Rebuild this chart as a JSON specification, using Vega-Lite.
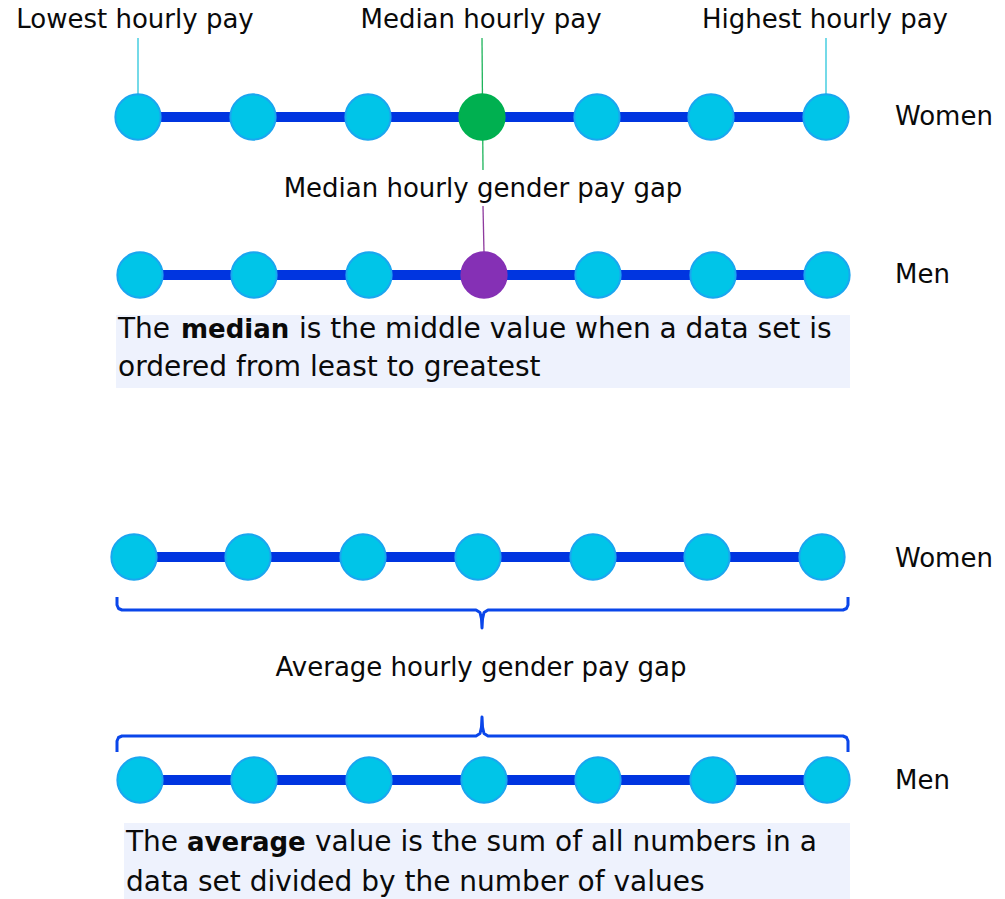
{
  "$schema": "https://vega.github.io/schema/vega-lite/v6.json",
  "width": 1005,
  "height": 899,
  "padding": 0,
  "autosize": {"type": "fit", "contains": "padding"},
  "background": "white",
  "config": {"view": {"stroke": null}},
  "datasets": {
    "boxes": [
      {"x": 116, "x2": 850, "y": 315, "y2": 388},
      {"x": 124, "x2": 850, "y": 823, "y2": 899}
    ],
    "leaders": [
      {"x": 138, "y": 38, "x2": 138, "y2": 95, "kind": "lead_cyan"},
      {"x": 826, "y": 38, "x2": 826, "y2": 95, "kind": "lead_cyan"},
      {"x": 482, "y": 38, "x2": 483, "y2": 170, "kind": "lead_green"},
      {"x": 483, "y": 206, "x2": 484, "y2": 253, "kind": "lead_purple"}
    ],
    "tracks": [
      {"x": 138, "x2": 826, "y": 117},
      {"x": 140, "x2": 827, "y": 275},
      {"x": 134, "x2": 822, "y": 557},
      {"x": 140, "x2": 827, "y": 780}
    ],
    "braces": [
      {"b": "top", "o": 1, "x": 117, "y": 597},
      {"b": "top", "o": 2, "x": 117, "y": 605},
      {"b": "top", "o": 3, "x": 118.5, "y": 608.5},
      {"b": "top", "o": 4, "x": 122, "y": 610},
      {"b": "top", "o": 5, "x": 476, "y": 610},
      {"b": "top", "o": 6, "x": 480, "y": 612.5},
      {"b": "top", "o": 7, "x": 481.5, "y": 619},
      {"b": "top", "o": 8, "x": 482, "y": 628},
      {"b": "top", "o": 9, "x": 482.5, "y": 619},
      {"b": "top", "o": 10, "x": 484, "y": 612.5},
      {"b": "top", "o": 11, "x": 488, "y": 610},
      {"b": "top", "o": 12, "x": 843, "y": 610},
      {"b": "top", "o": 13, "x": 846.5, "y": 608.5},
      {"b": "top", "o": 14, "x": 848, "y": 605},
      {"b": "top", "o": 15, "x": 848, "y": 597},
      {"b": "bot", "o": 1, "x": 117, "y": 752},
      {"b": "bot", "o": 2, "x": 117, "y": 741},
      {"b": "bot", "o": 3, "x": 118.5, "y": 737.5},
      {"b": "bot", "o": 4, "x": 122, "y": 736},
      {"b": "bot", "o": 5, "x": 476, "y": 736},
      {"b": "bot", "o": 6, "x": 480, "y": 733.5},
      {"b": "bot", "o": 7, "x": 481.5, "y": 727},
      {"b": "bot", "o": 8, "x": 482, "y": 717},
      {"b": "bot", "o": 9, "x": 482.5, "y": 727},
      {"b": "bot", "o": 10, "x": 484, "y": 733.5},
      {"b": "bot", "o": 11, "x": 488, "y": 736},
      {"b": "bot", "o": 12, "x": 843, "y": 736},
      {"b": "bot", "o": 13, "x": 846.5, "y": 737.5},
      {"b": "bot", "o": 14, "x": 848, "y": 741},
      {"b": "bot", "o": 15, "x": 848, "y": 752}
    ],
    "dots": [
      {"row": "Women median", "x": 138, "y": 117, "kind": "plain"},
      {"row": "Women median", "x": 253, "y": 117, "kind": "plain"},
      {"row": "Women median", "x": 368, "y": 117, "kind": "plain"},
      {"row": "Women median", "x": 482, "y": 117, "kind": "median_women"},
      {"row": "Women median", "x": 597, "y": 117, "kind": "plain"},
      {"row": "Women median", "x": 711, "y": 117, "kind": "plain"},
      {"row": "Women median", "x": 826, "y": 117, "kind": "plain"},
      {"row": "Men median", "x": 140, "y": 275, "kind": "plain"},
      {"row": "Men median", "x": 254, "y": 275, "kind": "plain"},
      {"row": "Men median", "x": 369, "y": 275, "kind": "plain"},
      {"row": "Men median", "x": 484, "y": 275, "kind": "median_men"},
      {"row": "Men median", "x": 598, "y": 275, "kind": "plain"},
      {"row": "Men median", "x": 713, "y": 275, "kind": "plain"},
      {"row": "Men median", "x": 827, "y": 275, "kind": "plain"},
      {"row": "Women average", "x": 134, "y": 557, "kind": "plain"},
      {"row": "Women average", "x": 248, "y": 557, "kind": "plain"},
      {"row": "Women average", "x": 363, "y": 557, "kind": "plain"},
      {"row": "Women average", "x": 478, "y": 557, "kind": "plain"},
      {"row": "Women average", "x": 593, "y": 557, "kind": "plain"},
      {"row": "Women average", "x": 707, "y": 557, "kind": "plain"},
      {"row": "Women average", "x": 822, "y": 557, "kind": "plain"},
      {"row": "Men average", "x": 140, "y": 780, "kind": "plain"},
      {"row": "Men average", "x": 254, "y": 780, "kind": "plain"},
      {"row": "Men average", "x": 369, "y": 780, "kind": "plain"},
      {"row": "Men average", "x": 484, "y": 780, "kind": "plain"},
      {"row": "Men average", "x": 598, "y": 780, "kind": "plain"},
      {"row": "Men average", "x": 713, "y": 780, "kind": "plain"},
      {"row": "Men average", "x": 827, "y": 780, "kind": "plain"}
    ],
    "centerLabels": [
      {"x": 135, "y": 20, "label": "Lowest hourly pay"},
      {"x": 481, "y": 20, "label": "Median hourly pay"},
      {"x": 825, "y": 20, "label": "Highest hourly pay"},
      {"x": 483, "y": 189, "label": "Median hourly gender pay gap"},
      {"x": 481, "y": 668, "label": "Average hourly gender pay gap"}
    ],
    "sideLabels": [
      {"x": 895, "y": 117, "label": "Women"},
      {"x": 895, "y": 275, "label": "Men"},
      {"x": 895, "y": 559, "label": "Women"},
      {"x": 895, "y": 781, "label": "Men"}
    ],
    "boxText": [
      {"x": 118, "y": 330, "label": "The"},
      {"x": 299, "y": 330, "label": "is the middle value when a data set is"},
      {"x": 118, "y": 368, "label": "ordered from least to greatest"},
      {"x": 126, "y": 843, "label": "The"},
      {"x": 315, "y": 843, "label": "value is the sum of all numbers in a"},
      {"x": 126, "y": 883, "label": "data set divided by the number of values"}
    ],
    "boxBold": [
      {"x": 181, "y": 330, "label": "median"},
      {"x": 187, "y": 843, "label": "average"}
    ]
  },
  "encoding": {
    "x": {"field": "x", "type": "quantitative", "scale": {"domain": [0, 1005], "nice": false, "zero": false}, "axis": null},
    "y": {"field": "y", "type": "quantitative", "scale": {"domain": [0, 899], "nice": false, "zero": false, "reverse": true}, "axis": null}
  },
  "layer": [
    {
      "data": {"name": "boxes"},
      "mark": {"type": "rect", "color": "#eef2fd"},
      "encoding": {"x2": {"field": "x2"}, "y2": {"field": "y2"}}
    },
    {
      "data": {"name": "leaders"},
      "mark": {"type": "rule", "strokeWidth": 1.3},
      "encoding": {
        "x2": {"field": "x2"},
        "y2": {"field": "y2"},
        "color": {"field": "kind", "type": "nominal", "legend": null,
          "scale": {"domain": ["lead_cyan", "lead_green", "lead_purple"], "range": ["#2ac6dc", "#1db45a", "#8e3a9e"]}}
      }
    },
    {
      "data": {"name": "tracks"},
      "mark": {"type": "rule", "strokeWidth": 10, "color": "#0035e0"},
      "encoding": {"x2": {"field": "x2"}}
    },
    {
      "data": {"name": "braces"},
      "mark": {"type": "line", "strokeWidth": 3, "color": "#0a46ea", "strokeJoin": "round", "strokeCap": "butt"},
      "encoding": {
        "detail": {"field": "b", "type": "nominal"},
        "order": {"field": "o", "type": "quantitative"}
      }
    },
    {
      "data": {"name": "dots"},
      "mark": {"type": "point", "shape": "circle", "filled": true, "size": 2050, "opacity": 1, "strokeWidth": 2},
      "encoding": {
        "fill": {"field": "kind", "type": "nominal", "legend": null,
          "scale": {"domain": ["plain", "median_women", "median_men"], "range": ["#00c5e8", "#00b050", "#8530b5"]}},
        "stroke": {"field": "kind", "type": "nominal", "legend": null,
          "scale": {"domain": ["plain", "median_women", "median_men"], "range": ["#1aa6f0", "#00b050", "#8530b5"]}}
      }
    },
    {
      "data": {"name": "centerLabels"},
      "mark": {"type": "text", "align": "center", "baseline": "middle", "font": "DejaVu Sans", "fontSize": 26, "color": "#0a0a0a"},
      "encoding": {"text": {"field": "label"}}
    },
    {
      "data": {"name": "sideLabels"},
      "mark": {"type": "text", "align": "left", "baseline": "middle", "font": "DejaVu Sans", "fontSize": 26, "color": "#0a0a0a"},
      "encoding": {"text": {"field": "label"}}
    },
    {
      "data": {"name": "boxText"},
      "mark": {"type": "text", "align": "left", "baseline": "middle", "font": "DejaVu Sans", "fontSize": 28, "color": "#0a0a0a"},
      "encoding": {"text": {"field": "label"}}
    },
    {
      "data": {"name": "boxBold"},
      "mark": {"type": "text", "align": "left", "baseline": "middle", "font": "DejaVu Sans", "fontSize": 26, "fontWeight": "bold", "color": "#0a0a0a"},
      "encoding": {"text": {"field": "label"}}
    }
  ]
}
